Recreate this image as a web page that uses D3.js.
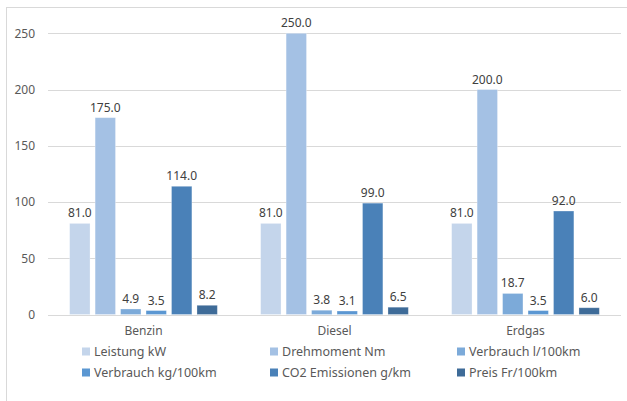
<!DOCTYPE html>
<html>
<head>
<meta charset="utf-8">
<script src="https://cdn.jsdelivr.net/npm/d3@7"></script>
<style>
  html, body { margin: 0; padding: 0; background: #fff; }
  svg { display: block; font-family: "Noto Sans", sans-serif; }
</style>
</head>
<body>
<svg id="chart" width="627" height="401"></svg>
<script>
// Fuel types on the x axis
const categories = ["Benzin", "Diesel", "Erdgas"];

// Series names, one bar per fuel type
const seriesNames = [
  "Leistung kW",
  "Drehmoment Nm",
  "Verbrauch l/100km",
  "Verbrauch kg/100km",
  "CO2 Emissionen g/km",
  "Preis Fr/100km"
];

// Values per series, in category order (Benzin, Diesel, Erdgas)
const leistung     = [81.0, 81.0, 81.0];
const drehmoment   = [175.0, 250.0, 200.0];
const verbrauchL   = [4.9, 3.8, 18.7];
const verbrauchKg  = [3.5, 3.1, 3.5];
const co2          = [114.0, 99.0, 92.0];
const preis        = [8.2, 6.5, 6.0];

const yTicks = [0, 50, 100, 150, 200, 250];

const seriesValues = [leistung, drehmoment, verbrauchL, verbrauchKg, co2, preis];
const colors = ["#c4d5eb", "#a4c1e4", "#7caad9", "#5b97d2", "#4a81b8", "#3e6b98"];

const svg = d3.select("#chart");

// Chart frame
svg.append("rect")
  .attr("x", 6.5).attr("y", 7.5)
  .attr("width", 640).attr("height", 420)
  .attr("fill", "none").attr("stroke", "#d9d9d9").attr("stroke-width", 1);

const plot = { left: 48, right: 621, top: 33.3, bottom: 314.5 };

const y = d3.scaleLinear().domain([0, 250]).range([plot.bottom, plot.top]);

const x0 = d3.scaleBand().domain(categories).range([plot.left, plot.right]).padding(0);
const x1 = d3.scaleBand().domain(d3.range(seriesNames.length))
  .range([0, x0.bandwidth()])
  .paddingInner(0.2)
  .paddingOuter(0.85);

// Horizontal gridlines
const yAxis = d3.axisLeft(y).tickValues(yTicks).tickSize(-(plot.right - plot.left)).tickPadding(13)
  .tickFormat(d3.format("d"));
const gy = svg.append("g").attr("transform", `translate(${plot.left},0)`).call(yAxis);
gy.select(".domain").remove();
gy.selectAll(".tick line").attr("stroke", "#d9d9d9").attr("stroke-width", 1)
  .attr("shape-rendering", "crispEdges");
gy.selectAll(".tick text").attr("fill", "#595959").attr("font-size", "12px")
  .attr("font-family", "Noto Sans, sans-serif");

// Bars
const groups = svg.append("g").selectAll("g")
  .data(categories)
  .join("g")
  .attr("transform", d => `translate(${x0(d)},0)`);

groups.selectAll("rect")
  .data((c, ci) => seriesValues.map((vals, si) => ({ si, v: vals[ci] })))
  .join("rect")
  .attr("x", d => x1(d.si))
  .attr("y", d => y(d.v))
  .attr("width", x1.bandwidth())
  .attr("height", d => y(0) - y(d.v))
  .attr("fill", d => colors[d.si])
  .attr("stroke", "#ffffff")
  .attr("stroke-opacity", 0.35)
  .attr("stroke-width", 0.8);

// Value labels
groups.selectAll("text")
  .data((c, ci) => seriesValues.map((vals, si) => ({ si, v: vals[ci] })))
  .join("text")
  .attr("x", d => x1(d.si) + x1.bandwidth() / 2)
  .attr("y", d => y(d.v) - 6)
  .attr("text-anchor", "middle")
  .attr("fill", "#404040")
  .attr("font-size", "12px")
  .text(d => d3.format(".1f")(d.v));

// Category axis labels
const xAxis = d3.axisBottom(x0).tickSize(0).tickPadding(12);
const gx = svg.append("g").attr("transform", `translate(0,${plot.bottom})`).call(xAxis);
gx.select(".domain").remove();
gx.selectAll(".tick text").attr("fill", "#595959").attr("font-size", "12px")
  .attr("font-family", "Noto Sans, sans-serif");

// Legend: three columns, two rows
const legendCols = [82, 270, 457];
const legendRows = [352, 373];
const legend = svg.append("g").selectAll("g")
  .data(seriesNames)
  .join("g")
  .attr("transform", (d, i) => `translate(${legendCols[i % 3]},${legendRows[Math.floor(i / 3)]})`);

legend.append("rect")
  .attr("x", 0).attr("y", -4.5)
  .attr("width", 8).attr("height", 8)
  .attr("fill", (d, i) => colors[i]);

legend.append("text")
  .attr("x", 12).attr("y", 0)
  .attr("dy", "0.35em")
  .attr("fill", "#595959")
  .attr("font-size", "12.5px")
  .text(d => d);
</script>
</body>
</html>
